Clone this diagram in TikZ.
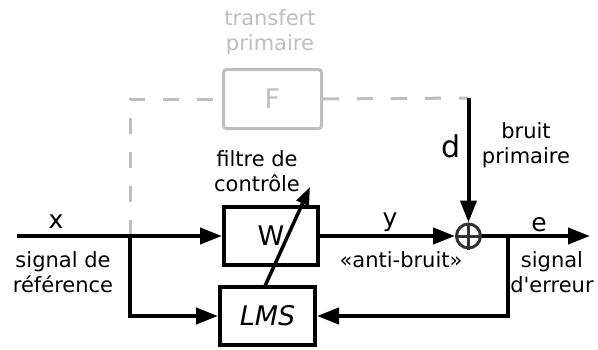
\documentclass[tikz,border=0pt]{standalone}
\usepackage{fontspec}
\setmainfont{DejaVu Sans}[Ligatures=TeXOff]
\usetikzlibrary{arrows.meta}
\definecolor{lgrey}{RGB}{190,190,190}
\definecolor{dgrey}{RGB}{50,50,50}
\begin{document}
\begin{tikzpicture}[x=1pt,y=-1pt,line width=4pt,
  >={Triangle[length=22pt,width=16pt]},
  lbl/.style={font=\fontsize{21}{25}\selectfont,align=center,inner sep=0pt,anchor=base},
  sym/.style={font=\fontsize{25}{30}\selectfont,inner sep=0pt,anchor=base},
  blockbox/.style={draw,minimum width=94pt,minimum height=58pt,inner sep=0pt,font=\fontsize{27}{32}\selectfont},
  dashline/.style={lgrey,line width=3pt,dash pattern=on 16pt off 18pt}]
\useasboundingbox (0,0) rectangle (598,349);
% blocks
\node[blockbox] (W) at (271,236) {W};
\node[blockbox,minimum width=95pt] (LMS) at (267.5,316) {\itshape LMS};
\node[blockbox,draw=lgrey,text=lgrey,line width=3pt,rounded corners=3pt,minimum width=98pt,minimum height=59pt] (F) at (272.5,99) {F};
\node[circle,draw=dgrey,line width=3pt,minimum size=24pt,inner sep=0pt] (S) at (468.5,236) {};
% coordinates
\coordinate (in) at (17,236);
\coordinate (J) at (130,236);
\coordinate (dtop) at (468.5,98);
\coordinate (fb) at (508,236);
\coordinate (eend) at (590,236);
\coordinate (dg1) at (265,286);
\coordinate (dg2) at (310,187);
% primary path (grey)
\draw[dashline] (J) |- (F.west);
\draw[dashline] (F.east) -- (dtop);
% plus sign
\draw[dgrey,line width=3pt] (S.north) -- (S.south) (S.west) -- (S.east);
% connectors
\draw (in) -- (J);
\draw[->] (J) -- (W.west);
\draw[->] (J) |- (LMS.west);
\draw[->] (W.east) -- (S.west);
\draw[->] (dtop) -- (S.north);
\draw[->] (S.east) -- (eend);
\draw[->] (fb) |- (LMS.east);
\draw[line width=3.5pt,-{Triangle[length=18pt,width=13pt]}] (dg1) -- (dg2);
% labels
\node[lbl,text=lgrey] (tp) at (270,50) {transfert\\primaire};
\node[lbl] (fc) at (257,191) {filtre de\\contrôle};
\node[sym] (lx) at (56,228) {x};
\node[lbl] (sr) at (63,292) {signal de\\référence};
\node[sym] (ly) at (390,226) {y};
\node[lbl] (ab) at (401,267) {«anti-bruit»};
\node[sym] (le) at (539,231) {e};
\node[lbl] (se) at (552,292) {signal\\d'erreur};
\node[sym,font=\fontsize{30}{36}\selectfont] (ld) at (451,157) {d};
\node[lbl] (bp) at (526,163) {bruit\\primaire};
\end{tikzpicture}
\end{document}
